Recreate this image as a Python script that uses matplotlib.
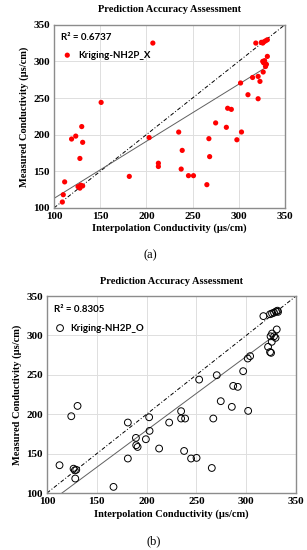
import numpy as np
import matplotlib
matplotlib.use("Agg")
import matplotlib.pyplot as plt

# panel (a): Kriging-NH2P_X
xa = [207, 151, 130, 123.5, 119, 131, 128, 111.5, 126, 128, 129, 131, 110, 109,
      203, 213, 213, 181.5, 235, 238.8, 237.7, 245.6, 251, 265.5, 267.7, 268.5,
      275, 286.6, 303, 298, 288, 292, 310, 321, 302, 315, 321, 323, 326.5, 327,
      328, 330, 326, 329, 331, 318.5, 324.5, 327, 329, 331, 326]
ya = [325, 244, 211, 198, 194, 189.5, 167.5, 135.5, 129, 127, 131, 130, 118, 108,
      196, 161, 156.5, 143, 203.5, 178.5, 153, 144, 144, 131.7, 194.5, 170,
      216, 210, 203.6, 193, 236, 234.5, 254.5, 249, 270.5, 278, 279.5, 272.7, 285.5, 298,
      301, 296, 300, 293, 306.8, 325, 326, 326.5, 328, 329.5, 325]

# panel (b): Kriging-NH2P_O
xb = [317.3, 324, 326, 328, 330, 331.5, 332, 330.7, 326, 328, 324.5, 329.5, 325.7,
      322, 324, 325, 304, 301.6, 297, 270.5, 252.8, 287, 291.6, 274.5, 285.6, 302,
      234.7, 234.7, 238.7, 267, 222.7, 237.7, 244.7, 250.2, 265.5, 130.7, 124.4,
      112.6, 126.7, 129.4, 128, 128.4, 166.8, 181.2, 202.6, 203, 189.3, 199.3,
      189.6, 191, 212.6, 181.2]
yb = [324.6, 327, 328, 329, 330.5, 331.5, 330, 307.7, 302.5, 299, 299, 297, 292,
      285.6, 279, 278, 273.8, 270.8, 254.7, 249.6, 244, 236, 234.8, 216.6, 209.4, 204.3,
      203.9, 194.6, 194.6, 194.6, 189.5, 153.4, 143.8, 144.6, 131.8, 210.6, 197.5,
      135.3, 130.9, 129.5, 128.8, 118.4, 107.8, 189.5, 196.2, 178.9, 170, 168.3,
      160.7, 158.5, 156.5, 143.8]

# trendlines as drawn in the figure (slope, intercept)
trend_a = (0.779, 35.1)
trend_b = (0.937, -7.8)

r2_labels = ["R² = 0.6737", "R² = 0.8305"]
series_names = ["Kriging-NH2P_X", "Kriging-NH2P_O"]
ticks = [100, 150, 200, 250, 300, 350]

serif = "Liberation Serif"
sans = "Lato"

fig = plt.figure(figsize=(3.07, 5.5), dpi=100)
ax1 = fig.add_axes([0.176, 0.622, 0.752, 0.333])
ax2 = fig.add_axes([0.153, 0.1036, 0.811, 0.358])


def style_axes(ax):
    ax.set_xlim(100, 350)
    ax.set_ylim(100, 350)
    ax.set_xticks(ticks)
    ax.set_yticks(ticks)
    ax.grid(True, color="#dedede", lw=0.7)
    ax.set_axisbelow(True)
    for s in ax.spines.values():
        s.set_color("#8c8c8c")
        s.set_linewidth(1.0)
    ax.tick_params(length=0, pad=3)
    for lab in ax.get_xticklabels() + ax.get_yticklabels():
        lab.set_fontfamily(serif)
        lab.set_fontweight("bold")
        lab.set_fontsize(8)
    ax.set_xlabel("Interpolation Conductivity (µs/cm)", fontfamily=serif,
                  fontweight="bold", fontsize=7.5, labelpad=2)
    ax.set_ylabel("Measured Conductivity (µs/cm)", fontfamily=serif,
                  fontweight="bold", fontsize=7.5, labelpad=3)
    ax.set_title("Prediction Accuracy Assessment", fontfamily=serif,
                 fontweight="bold", fontsize=7.5, pad=9)


def draw(ax, x, y, trend, r2, name, filled):
    x = np.array(x)
    y = np.array(y)
    if filled:
        h = ax.scatter(x, y, s=14, color="#ff0000", edgecolors="none", zorder=3)
    else:
        h = ax.scatter(x, y, s=24, facecolors="none", edgecolors="#000000",
                       linewidths=0.7, zorder=3)
    # 1:1 line
    ax.plot([100, 350], [100, 350], color="#000000", lw=0.7,
            dashes=(4, 2, 1, 2), zorder=2)
    # linear trendline
    k, b = trend
    xt = np.array([100, x.max()])
    ax.plot(xt, k * xt + b, color="#606060", lw=0.7, zorder=2)
    ax.text(0.03, 0.93, r2, transform=ax.transAxes, fontfamily=sans,
            fontweight="bold", fontsize=7, va="center")
    ax.legend([h], [name], loc="upper left", bbox_to_anchor=(-0.01, 0.89),
              frameon=False, handletextpad=0.1, borderaxespad=0.2,
              prop={"family": sans, "weight": "bold", "size": 7})
    style_axes(ax)


draw(ax1, xa, ya, trend_a, r2_labels[0], series_names[0], True)
draw(ax2, xb, yb, trend_b, r2_labels[1], series_names[1], False)

fig.text(0.49, 0.535, "(a)", fontfamily=serif, fontsize=9, ha="center", va="center")
fig.text(0.5, 0.015, "(b)", fontfamily=serif, fontsize=9, ha="center", va="center")

fig.savefig("out.png", dpi=100)
